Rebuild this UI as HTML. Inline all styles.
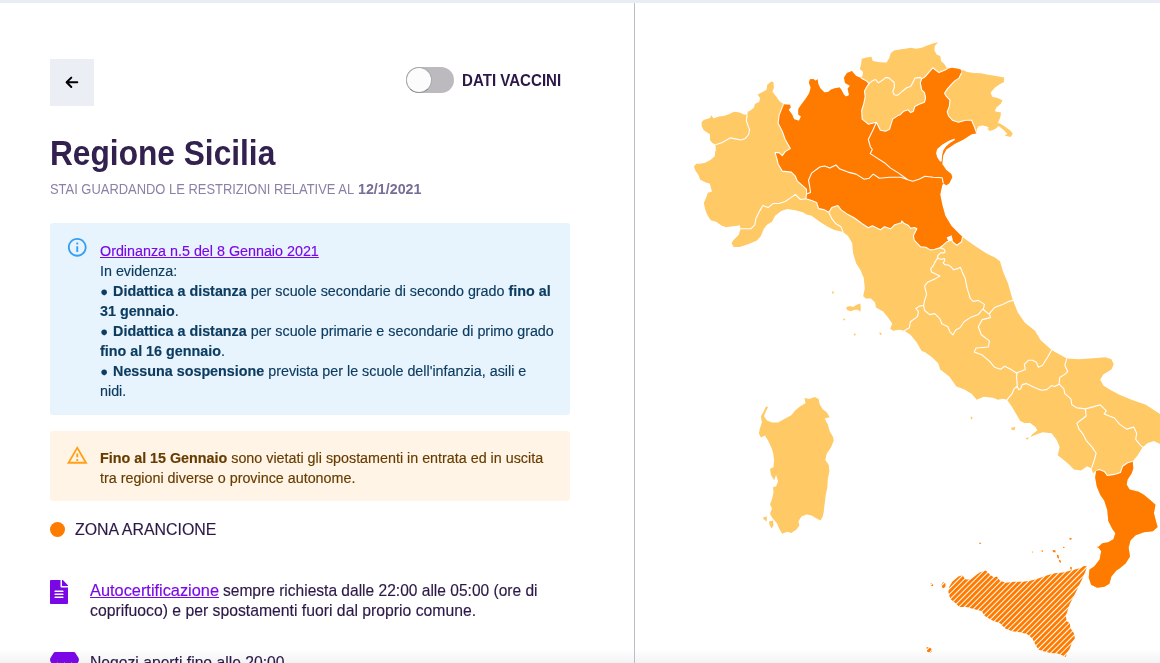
<!DOCTYPE html>
<html lang="it">
<head>
<meta charset="utf-8">
<title>Regione Sicilia</title>
<style>
html,body{margin:0;padding:0;}
body{width:1160px;height:663px;overflow:hidden;background:#fff;position:relative;font-family:"Liberation Sans",sans-serif;color:#2f1c4e;}
.abs{position:absolute;white-space:nowrap;}
#topbar{left:0;top:0;width:1160px;height:3px;background:#e9ecf5;}
#divider{left:634px;top:3px;width:1px;height:660px;background:#bfbdc4;}
#back{left:50px;top:59px;width:44px;height:47px;background:#eceef6;}
#track{left:406px;top:67px;width:48px;height:26px;border-radius:13px;background:#bcbabf;}
#knob{left:406px;top:67px;width:24px;height:24px;border-radius:50%;background:#fcfcfc;border:1px solid #a9a7ad;border-bottom-color:#8f8d93;}
#lbl{left:461.5px;top:71.4px;font-size:16.6px;font-weight:bold;color:#2c1848;line-height:19px;transform-origin:0 0;transform:scaleX(.909);}
#title{left:49.5px;top:131.3px;font-size:35.2px;font-weight:bold;color:#32204f;line-height:44px;transform-origin:0 0;transform:scaleX(.9);}
.sub{top:179.8px;font-size:14.4px;color:#8c80a6;line-height:18px;transform-origin:0 0;}
#sub{left:50px;transform:scaleX(.8985);}
#subd{left:358.2px;transform:scaleX(.9915);}
.sub b{color:#786d96;}
.box{border-radius:3px;}
#info{left:50px;top:223px;width:520px;height:191.5px;background:#e8f4fd;}
#warn{left:50px;top:431.2px;width:520px;height:70.3px;background:#fff4e5;}
.ln{font-size:14.32px;line-height:20px;}
.it{color:#0d3c61;}
.bu{display:inline-block;width:9.1px;font-size:13px;line-height:10px;text-align:left;text-indent:0.2px;vertical-align:0.3px;}
.ln,.li,#zona{-webkit-text-stroke:0.15px currentColor;}
.wt{color:#663c00;}
a{color:#7a08e6;text-decoration:underline;}
#dot{left:50px;top:521.5px;width:15px;height:15px;border-radius:50%;background:#ff7b00;}
#zona{left:74.5px;top:519.5px;font-size:16.7px;line-height:20px;color:#2c1848;transform-origin:0 0;transform:scaleX(.953);}
.li{font-size:15.7px;line-height:20.8px;color:#2c1848;transform-origin:0 0;}
#fade{left:0;top:649px;width:1160px;height:14px;background:linear-gradient(to bottom,rgba(238,238,238,0),rgba(238,238,238,.7));}
</style>
</head>
<body>
<div class="abs" id="fade"></div>
<div class="abs" id="topbar"></div>
<div class="abs" id="divider"></div>

<div class="abs" id="back">
<svg width="44" height="47" viewBox="0 0 44 47"><path d="M27.3 23.3H17.2M21.3 18.6L16.6 23.3L21.3 28" fill="none" stroke="#000" stroke-width="2" stroke-linecap="round" stroke-linejoin="round"/></svg>
</div>

<div class="abs" id="track"></div>
<div class="abs" id="knob"></div>
<div class="abs" id="lbl">DATI VACCINI</div>

<div class="abs" id="title">Regione Sicilia</div>
<div class="abs sub" id="sub">STAI GUARDANDO LE RESTRIZIONI RELATIVE AL</div>
<div class="abs sub" id="subd"><b>12/1/2021</b></div>

<div class="abs box" id="info"></div>
<svg class="abs" style="left:65.6px;top:236.1px;opacity:.9" width="22.5" height="22.5" viewBox="0 0 24 24"><path fill="#2196f3" d="M11 7h2v2h-2zm0 4h2v6h-2zm1-9C6.480 2 2 6.480 2 12s4.480 10 10 10 10-4.480 10-10S17.520 2 12 2zm0 18c-4.410 0-8-3.590-8-8s3.590-8 8-8 8 3.590 8 8-3.590 8-8 8z"/></svg>
<div class="abs ln it" style="left:100px;top:241px"><a>Ordinanza n.5 del 8 Gennaio 2021</a></div>
<div class="abs ln it" style="left:100px;top:261px">In evidenza:</div>
<div class="abs ln it" style="left:100px;top:281px"><span class="bu">●</span> <b>Didattica a distanza</b> per scuole secondarie di secondo grado <b>fino al</b></div>
<div class="abs ln it" style="left:100px;top:301px"><b>31 gennaio</b>.</div>
<div class="abs ln it" style="left:100px;top:321px"><span class="bu">●</span> <b>Didattica a distanza</b> per scuole primarie e secondarie di primo grado</div>
<div class="abs ln it" style="left:100px;top:341px"><b>fino al 16 gennaio</b>.</div>
<div class="abs ln it" style="left:100px;top:361px"><span class="bu">●</span> <b>Nessuna sospensione</b> prevista per le scuole dell'infanzia, asili e</div>
<div class="abs ln it" style="left:100px;top:381px">nidi.</div>

<div class="abs box" id="warn"></div>
<svg class="abs" style="left:65.6px;top:444.1px;opacity:.9" width="22.5" height="22.5" viewBox="0 0 24 24"><path fill="#ff9800" d="M12 5.990L19.530 19H4.470L12 5.990M12 2L1 21h22L12 2zm1 14h-2v2h2v-2zm0-6h-2v4h2v-4z"/></svg>
<div class="abs ln wt" style="left:100px;top:448px"><b>Fino al 15 Gennaio</b> sono vietati gli spostamenti in entrata ed in uscita</div>
<div class="abs ln wt" style="left:100px;top:468px">tra regioni diverse o province autonome.</div>

<div class="abs" id="dot"></div>
<div class="abs" id="zona">ZONA ARANCIONE</div>

<svg class="abs" style="left:50px;top:579.5px" width="18" height="24" viewBox="0 0 384 512"><path fill="#7a08e6" d="M224 136V0H24C10.700 0 0 10.700 0 24v464c0 13.300 10.700 24 24 24h336c13.300 0 24-10.700 24-24V160H248c-13.200 0-24-10.800-24-24zm64 236c0 6.600-5.400 12-12 12H108c-6.600 0-12-5.400-12-12v-8c0-6.600 5.400-12 12-12h168c6.600 0 12 5.400 12 12v8zm0-64c0 6.600-5.400 12-12 12H108c-6.600 0-12-5.400-12-12v-8c0-6.600 5.400-12 12-12h168c6.600 0 12 5.400 12 12v8zm0-72v8c0 6.600-5.400 12-12 12H108c-6.600 0-12-5.400-12-12v-8c0-6.600 5.400-12 12-12h168c6.600 0 12 5.400 12 12zm96-114.100v6.100H256V0h6.100c6.400 0 12.500 2.500 17 7l97.900 98c4.500 4.500 7 10.600 7 16.900z"/></svg>
<div class="abs li" id="li1a" style="left:90px;top:580.5px;transform:scaleX(1.042)"><a>Autocertificazione</a></div>
<div class="abs li" id="li1b" style="left:223.2px;top:580.5px;transform:scaleX(.991)">sempre richiesta dalle 22:00 alle 05:00 (ore di</div>
<div class="abs li" id="li2" style="left:90px;top:601.2px;transform:scaleX(1.004)">coprifuoco) e per spostamenti fuori dal proprio comune.</div>

<svg class="abs" style="left:50px;top:651.7px" width="29" height="24" viewBox="0 0 616 512"><path fill="#7a08e6" d="M602 118.600L537.100 15C531.300 5.700 521 0 510 0H106C95 0 84.700 5.700 78.900 15L14 118.600c-33.500 53.500-3.800 127.900 58.800 136.400 4.500.6 9.100.9 13.700.9 29.600 0 55.800-13 73.800-33.100 18 20.100 44.300 33.100 73.800 33.100 29.600 0 55.800-13 73.800-33.100 18 20.100 44.300 33.100 73.800 33.100 29.600 0 55.800-13 73.800-33.100 18.100 20.100 44.300 33.100 73.800 33.100 4.700 0 9.200-.3 13.700-.9 62.800-8.400 92.600-82.800 59-136.400zM529.500 288c-10 0-19.900-1.500-29.500-3.800V384H116v-99.800c-9.600 2.200-19.500 3.800-29.500 3.800-6 0-12.100-.4-18-1.200-5.600-.8-11.100-2.100-16.400-3.600V480c0 17.700 14.300 32 32 32h448c17.700 0 32-14.300 32-32V283.200c-5.400 1.600-10.800 2.900-16.400 3.600-6.100.8-12.100 1.200-18.200 1.200z"/></svg>
<div class="abs li" id="li3" style="left:90px;top:652.6px">Negozi aperti fino alle 20:00.</div>

<!--MAP-->
<svg class="abs" id="map" style="left:635px;top:3px" width="525" height="660" viewBox="635 3 525 660">
<defs><pattern id="hatch" patternUnits="userSpaceOnUse" width="3.9" height="10" patternTransform="rotate(45)"><rect width="3.9" height="10" fill="#fff"/><rect x="0" width="2.9" height="10" fill="#ff7b00"/></pattern></defs>
<g stroke-linejoin="round">
<path fill="#ffc966" d="M701.7,122.1 703.8,120 710,117.9 711.4,115.2 713.4,118.6 719,116.6 723.8,115.9 730,113.8 734.1,111.7 739.7,112.4 743.8,114.5 747.2,114.8 747.9,111.7 750.7,110.3 754.1,107.6 754.8,104.1 759,102.1 760.3,98.6 757.6,94.5 761.7,92.4 766.6,89.7 767.2,84.8 771.4,81.4 773.4,82.1 773.9,87.6 772.5,91.7 776.2,96.6 779.7,101.4 783.5,104.1 784.5,104.4 790,104.8 790.7,107.6 788.6,109.7 792.1,114.5 794.1,119.3 799,120.7 801,116.6 798.3,114.5 798.3,109 801.7,104.1 805.9,98.6 809.3,93.1 810.7,87.6 808.9,82.8 810,79.3 813.4,79 815.5,80.7 817.6,79.3 818.3,84.1 820.3,88.3 824.5,92.4 828.6,91.7 830.7,89.7 834.8,88.3 839.7,87.6 841.7,90.3 843.8,94.5 845.9,96.6 848.6,95.6 849,94.4 847.6,88.8 850,85.7 845,83.1 844,77.6 847,72.9 852.1,71.1 852.8,72.2 856.2,76 861,78.1 862.4,76 863.1,71.9 859.7,69.1 861,65 861.7,58.8 866.6,57.4 871.4,56.7 872.8,60.9 879.7,62.2 886.6,62.5 889.3,58.1 890.7,53.3 894.1,50.5 899.7,49.6 905.2,48.7 910.7,47.8 916.2,48.7 921.7,47.8 927.2,45.4 932.8,43.6 938.3,42.2 934.8,45.7 934.4,50.5 936.9,54.7 940.3,56 941,60.9 944.5,64.3 947.2,69.1 952.1,67.8 959,69.1 961,69.8 961.7,72.6 962.4,69.8 967.2,71.9 974.1,73 981,73.3 987.9,74.7 994.8,75.8 1004.2,77.4 1003.8,82.2 999.7,84.3 994.8,87.8 990.7,92.6 992.1,96.7 997.6,98.1 1002.4,100.2 1001,103.6 996.2,107.8 994.8,111.2 1001,112.6 1000.4,117.1 997.9,123.2 999.6,123.2 1004.8,126.5 1010.3,130.6 1012.8,133.8 1010.6,137 1004.6,135.6 1007.3,133.8 1003.4,129.7 998.6,125.9 994.9,129.3 989.8,130.9 985.8,127.2 978.7,127.2 976.7,131.3 976.7,133.3 971.6,134.3 963.5,139.4 955.4,143.4 946.3,149.5 943.2,155.6 942.2,163.9 946.3,170.1 951.3,174.1 952.3,177.2 949.3,183.2 946.3,185.3 943.2,183.2 942.2,185.3 940.2,194.4 942.2,204.5 945.3,215.7 951.3,225.8 957.4,231.9 962.5,237 973.6,245 985.8,253.1 994.9,257.6 1000,261.2 1003,271.4 1008.1,283.5 1012.1,297.9 1013.1,300.4 1017.8,312.5 1024.9,322.7 1035,330.8 1040.5,340 1051.6,350.1 1066.8,358.6 1079,359.2 1093.1,358.2 1105.3,357.2 1111.4,359.2 1113.8,364.3 1111.4,369.4 1103.3,374.4 1100.2,379.5 1103.3,385.6 1111.4,390.6 1119.5,394.7 1131.6,399.8 1145.8,404.8 1153.9,409.9 1160,413.9 1175,417 1175,446 1160,444.1 1153.9,441 1147.8,443 1142.8,447.1 1137.7,455.2 1132.7,461.3 1133.3,468.4 1131.6,473.4 1127.6,479.5 1126.6,484.6 1129.6,489.6 1138.7,491.7 1143.8,494.7 1149.9,499.8 1155.5,504.8 1153.9,512.9 1155.9,521 1157.6,527.1 1152.9,531.2 1143.8,532.2 1135.7,535.2 1130.6,540.3 1128.6,547.4 1130,556.5 1125.6,563.6 1119.5,568.6 1116.4,570.5 1111.4,576.6 1109.4,583.7 1104.3,586.7 1097.2,587.8 1091.1,584.7 1088.7,577.6 1089.5,569.5 1094.2,566.5 1099.6,559.4 1101.2,551.3 1097.6,546.2 1097.6,547.4 1102.3,543.3 1108.3,542.3 1113.4,539.3 1115.4,533.2 1112.4,529.1 1108.3,521 1107.3,509.9 1104.3,500.8 1100.2,494.7 1096.8,486.6 1095.2,477.5 1096.2,470.4 1093.1,473.4 1091.5,468.4 1087.1,466.3 1081,470.4 1073.9,469.4 1068.8,464.3 1062.8,459.2 1057.7,455.2 1059.7,447.1 1056.7,440 1051.6,433.2 1042.5,432.2 1034.4,435.2 1030.3,437.2 1032.4,434.2 1037.4,430.2 1035.4,427.1 1030.3,423.1 1024.3,423.1 1020.2,421 1016.2,413.9 1012.1,406.9 1007,399.8 1003,398.8 997.9,399.8 992.9,397.7 983.8,396.7 976.7,399.8 971.6,393.7 964.5,389.6 956.4,386.6 949.3,376.5 940.2,369.4 938.2,363.3 932.1,357.2 925,352.2 921.6,351 916.5,341.9 910.4,334.8 904.3,330.8 899.3,329.8 893.2,330.8 890.2,328.8 892.2,323.7 888.1,317.6 883.1,311.5 876,307.5 875,302.4 870.9,298.4 865.8,298.4 863.2,296.3 864.8,288.2 863.8,278.1 860.4,270 856.1,263.3 853.1,253.1 852.1,243 848,235.9 843,231.9 838.9,230.9 833.8,229.8 827.8,226.8 819.7,221.7 811.6,215.7 806.5,214.6 803.4,212.6 795.3,210.2 787.2,209 781.2,211 775.1,215.7 772,221.7 767,224.8 763.9,228.8 760.9,235.9 756.9,240.6 748.8,244 739.6,247.1 733.6,247.1 731.5,243 733.6,240 738.6,234.9 740.6,228.8 739.7,225.2 735.5,225.9 730.7,226.6 725.9,227.2 721,225.2 716.2,221.7 710.7,220.3 707.2,214.8 705.2,209.3 703.8,203.1 705.9,198.3 707.9,192.8 712.1,191.4 710.7,187.2 710,183.8 705.9,182.4 700.3,179.7 698.3,174.8 695.5,170.7 693.9,166.6 696.2,163.8 700.3,163.8 705.2,162.7 710.7,159.7 714.8,156.2 715.1,152.1 715.9,150 715.5,144.8 712.1,142.8 710,140 710,134.5 707.2,132.4 703.8,130.3 701.7,126.2 701.7,122.1Z"/>
<path fill="#ffc966" d="M804.5,398.1 809.5,399.1 814.6,397.1 818.6,399.1 819.7,404.2 822.7,409.2 826.7,412.3 829.8,417.3 824.7,418.4 827.8,424.4 829.8,431.5 832.8,436.6 833.8,440.6 830.8,447.7 826.7,453.8 825.3,459.9 828.8,465 829.4,471 827.8,479.1 827.4,487.2 825.7,495.3 824.7,503.4 823.7,511.6 824.1,510.4 822.7,516.5 820.7,520.5 816.6,518.5 811.6,515.5 806.5,514.4 801.4,516.5 798.4,521.5 799.4,525.6 796.4,529.6 791.3,533.1 787.2,531.7 782.2,533.7 779.1,528.6 777.1,523.6 772,517.5 770,513.4 772,508.4 770,504.3 772,499.2 773.5,492.2 773.1,487.2 776.1,486.2 778.1,481.2 776.1,475.1 774.1,480.2 771,475.1 770,469 773.5,467 774.1,459.9 773.1,452.8 771,446.7 768,440.6 765,435.6 760.9,437.6 758.9,433.6 759.9,428.5 761.9,422.4 760.9,416.3 763.3,412.3 766,406.2 768,407.2 766,411.3 763.9,416.3 767,420.4 772,422.4 778.1,422.4 785.2,418.4 791.3,415.3 795.3,410.3 800.4,406.2 805.5,403.2Z M846.2,307.3 849.6,306.1 853.1,306.9 856.7,304.8 860.4,303.4 860.8,307.5 860.4,311.7 857.7,309.7 854.7,309.7 850.6,311.3 847,310.1Z M832.4,291.1 833.8,291.9 833.4,293.9 832,293.1Z M843.2,318.6 845.4,319 844.6,320.6 843.4,320Z M853.7,333.4 855.7,333.8 855.5,335.6 853.9,335.2Z M879.4,332 881.4,333.2 881.4,335.2 879.8,334.4Z M832.4,291.2 833.8,291.6 833.4,294.1 832.2,293.2Z M1011.1,427.7 1015.4,427.1 1014.5,430.2 1011.7,429.7Z M1025.9,438.1 1028.7,437.6 1028.3,439.3 1026.1,439.3Z M970.8,416.6 972.4,417 972,419.4 970.8,419Z M762.9,517.5 767,516.5 766.6,521.5 763.9,519.5Z M769,521.5 773.1,520.5 773.5,525.6 771.4,528.6 769.4,524.6Z"/>
<path fill="#ff7b00" d="M783.5,104.1 784.5,104.4 790,104.8 790.7,107.6 788.6,109.7 792.1,114.5 794.1,119.3 799,120.7 801,116.6 798.3,114.5 798.3,109 801.7,104.1 805.9,98.6 809.3,93.1 810.7,87.6 808.9,82.8 810,79.3 813.4,79 815.5,80.7 817.6,79.3 818.3,84.1 820.3,88.3 824.5,92.4 828.6,91.7 830.7,89.7 834.8,88.3 839.7,87.6 841.7,90.3 843.8,94.5 845.9,96.6 848.6,95.6 849,94.4 847.6,88.8 850,85.7 845,83.1 844,77.6 847,72.9 852.1,71.1 852.8,72.2 856.2,76 861,78.1 866.6,80.9 869,83.6 866.6,87.1 864.5,91.2 865.2,96.7 863.8,103.6 861.7,110.5 862.2,119.1 868.3,124.2 876.4,122.2 873.3,129.3 868.3,139.4 870.3,146.5 872.3,149.5 870.3,153.6 876.4,157.6 884.5,162.7 890.6,168.1 898.7,173.1 907.8,179.8 900.7,177.2 889.5,177.2 879.4,178.2 873.3,174.1 869.3,178.2 864.2,179.2 856.1,174.1 848,172.1 839.9,169.1 835.9,165 829.8,168.1 824.7,166 819.7,167 811.6,173.1 808.5,180.2 809.5,185.3 810.5,192.4 806.5,194 806.5,189.3 803.4,186.3 797.4,181.2 795.3,176.2 791.3,172.1 782.2,171.1 778.1,163.9 777.1,159.7 775.1,152.6 779.1,152.6 782.2,155.6 785.2,151.6 790.3,148.5 785.2,139.4 782.2,131.3 778.1,123.2 779.1,115.1 783.5,104.1Z M876.4,122.2 880.4,130.3 885.5,131.3 889.5,129.3 892.6,119.1 898.7,115.1 900.3,114.7 903.8,111.2 907.9,109.8 910.7,112.6 913.4,111.2 914.8,106.4 919,104.3 924.5,102.2 925.6,98.1 924.5,92.6 921.7,89.8 920.3,82.9 921.7,78.8 925.2,76.7 928.6,72.6 932.8,67.8 936.2,70.5 939,72.6 943.8,70.5 947.2,69.1 952.1,67.8 959,69.1 961,69.8 961.7,72.6 959,78.1 954.8,80.9 951.4,84.3 947.2,89.1 944.5,93.3 946.6,96.7 950,100.2 949.3,106.4 947.2,111.9 948.6,116 952.3,120.2 958.4,122.2 965.5,120.2 971.6,120.2 974.6,127.2 976.7,133.3 971.6,134.3 963.5,139.4 955.4,143.4 946.3,149.5 943.2,155.6 942.2,163.9 946.3,170.1 951.3,174.1 952.3,177.2 949.3,183.2 946.3,185.3 943.2,183.2 942.2,177.8 933.1,177.2 925,176.2 918.9,179.2 912.8,181.2 907.8,179.8 898.7,173.1 890.6,168.1 884.5,162.7 876.4,157.6 870.3,153.6 872.3,149.5 870.3,146.5 868.3,139.4 873.3,129.3 876.4,122.2Z M806.5,194 810.5,192.4 809.5,185.3 808.5,180.2 811.6,173.1 819.7,167 824.7,166 829.8,168.1 835.9,165 839.9,169.1 848,172.1 856.1,174.1 864.2,179.2 869.3,178.2 873.3,174.1 879.4,178.2 889.5,177.2 900.7,177.2 907.8,179.8 912.8,181.2 918.9,179.2 925,176.2 933.1,177.2 942.2,177.8 943.2,183.2 942.2,185.3 940.2,194.4 942.2,204.5 945.3,215.7 951.3,225.8 957.4,231.9 962.5,237 961.6,241.7 956.9,245.2 953,242.2 951.7,240 947,241.7 943.1,245.2 939.7,247.8 937.9,248.2 934.5,249.5 930.2,249.9 925.9,247.3 920.7,246.9 917.2,243.4 914.2,240 913.4,235.7 915.1,232.2 916.8,228.8 914.7,227.5 910.8,228.4 908.2,225.3 904.3,223.6 901.7,221 901.7,222.8 894.6,224.8 890.6,228.8 884.5,226.8 880.4,229.8 872.3,225.8 868.3,227.8 862.2,223.8 854.1,217.7 848,214.6 840.9,209.6 837.9,205.5 831.8,207.6 828.8,212.2 823.7,209.6 818.6,208.6 816.6,202.5 811.6,200.5 805.9,198.8 806.5,194Z M1096.2,470.4 1099.2,469.4 1104.3,471.4 1107.3,475.5 1114.4,474.4 1120.5,472.4 1122.5,466.3 1127.6,462.7 1132.7,461.3 1133.3,468.4 1131.6,473.4 1127.6,479.5 1126.6,484.6 1129.6,489.6 1138.7,491.7 1143.8,494.7 1149.9,499.8 1155.5,504.8 1153.9,512.9 1155.9,521 1157.6,527.1 1152.9,531.2 1143.8,532.2 1135.7,535.2 1130.6,540.3 1128.6,547.4 1130,556.5 1125.6,563.6 1119.5,568.6 1116.4,570.5 1111.4,576.6 1109.4,583.7 1104.3,586.7 1097.2,587.8 1091.1,584.7 1088.7,577.6 1089.5,569.5 1094.2,566.5 1099.6,559.4 1101.2,551.3 1097.6,546.2 1097.6,547.4 1102.3,543.3 1108.3,542.3 1113.4,539.3 1115.4,533.2 1112.4,529.1 1108.3,521 1107.3,509.9 1104.3,500.8 1100.2,494.7 1096.8,486.6 1095.2,477.5 1096.2,470.4Z M979.3,542.5 981.3,542.9 980.5,544.1 979.3,543.7Z M1041.3,550.4 1043.3,550.6 1042.9,551.8 1041.5,551.6Z M1052.6,550 1055.7,550.4 1055.3,552.6 1053,552Z M1056.7,554.5 1058.7,555.5 1059.1,558.5 1057.5,557.9Z M1058.7,559.5 1060.7,560.5 1061.1,562.8 1059.5,562.2Z M1063,546.8 1064.6,547 1064.4,548 1063.2,548Z M1069.4,537.8 1071.7,538.3 1071.3,539.7 1069.6,539.5Z M1070.1,567 1071.9,567.2 1071.7,569.7 1070.3,569.2Z M1031.8,551.6 1033,551.8 1032.8,552.6 1032,552.6Z"/>
<path fill="url(#hatch)" d="M1087.1,566.5 1085,572.6 1082,579.6 1078,587.8 1073.9,595.9 1069.8,604 1067.8,610 1065.8,616.1 1066.8,621.2 1069.8,623.2 1070.5,628.3 1073.9,633.3 1074.9,638.4 1071.9,642.4 1069.8,648.5 1066.8,653.6 1065.8,657 1062.8,655.6 1057.7,653.6 1050.6,653 1044.5,651.6 1038.4,649.5 1035.4,644.5 1032.4,638.4 1027.3,634.3 1020.2,632.3 1012.1,631.3 1005,628.3 1000,623.2 991.9,620.2 984.8,616.1 981.7,611 973.6,609 966.5,607 959.4,607 955.4,602.9 950.3,598.9 948.3,591.8 949.3,586.7 952.3,581.7 958.4,576.6 962.5,575.2 965.5,579.6 970.6,579.6 975.6,575.6 979.7,572.6 985.8,570.5 989.8,574.6 993.9,577.6 996.9,576.6 1000,580.7 1006,582.7 1014.1,581.7 1022.2,581.7 1030.3,580.7 1038.4,578.6 1046.6,575.6 1054.7,573.2 1062.8,572.6 1070.9,570.5 1079,568.5 1084,565.9Z M930.7,583.3 933.1,583.7 933.1,586.1 931.1,586.1Z M941.2,584.9 943.2,582.1 945.3,583.3 945.7,587.8 942.8,588.2Z M926.6,646.9 930.7,648.1 932.3,651 930.3,653 927,651.4Z"/>
<path fill="#fff" d="M946.6,237.6 951.6,235.3 952.8,240.2 948.3,241Z M954.5,138.6 948.3,141.1 942.1,144.8 937.2,149 936.1,153.1 937.2,157.2 940,161.4 941.7,161.4 942.1,155.2 943.4,150.3 946.2,146.2 950.3,142.8 954.9,140Z M976.6,129.7 978.6,126.2 982.8,125.5 988.3,126.9 988.3,129 982.8,127.6 979.3,128.3 977.9,131Z"/>
<path fill="none" stroke="#fff" stroke-width="1.1" d="M747.2,114.8 746.3,120.7 747.9,125.5 749.6,129.7 748.6,134.5 745.2,138.6 741,140 735.5,138.9 730,137.9 726.6,140 721.7,142.8 715.5,144.8 M783.5,104.1 779.1,115.1 778.1,123.2 782.2,131.3 785.2,139.4 790.3,148.5 785.2,151.6 782.2,155.6 779.1,152.6 775.1,152.6 777.1,159.7 778.1,163.9 782.2,171.1 791.3,172.1 795.3,176.2 797.4,181.2 803.4,186.3 806.5,189.3 806.5,194 M806.5,194 805.9,198.8 M740.6,228.8 750.8,228.8 754.8,224.8 755.8,218.7 759.9,210.6 762.9,205.5 768,207.6 773.1,203.5 779.1,203.5 785.2,201.5 791.3,197.4 795.3,194.4 800.4,199.5 805.9,198.8 M861,78.1 866.6,80.9 869,83.6 866.6,87.1 864.5,91.2 865.2,96.7 863.8,103.6 861.7,110.5 862.2,119.1 868.3,124.2 876.4,122.2 M876.4,122.2 873.3,129.3 868.3,139.4 870.3,146.5 872.3,149.5 870.3,153.6 876.4,157.6 884.5,162.7 890.6,168.1 898.7,173.1 907.8,179.8 M806.5,194 810.5,192.4 809.5,185.3 808.5,180.2 811.6,173.1 819.7,167 824.7,166 829.8,168.1 835.9,165 839.9,169.1 848,172.1 856.1,174.1 864.2,179.2 869.3,178.2 873.3,174.1 879.4,178.2 889.5,177.2 900.7,177.2 907.8,179.8 M907.8,179.8 912.8,181.2 918.9,179.2 925,176.2 933.1,177.2 942.2,177.8 943.2,183.2 M876.4,122.2 880.4,130.3 885.5,131.3 889.5,129.3 892.6,119.1 898.7,115.1 900.3,114.7 903.8,111.2 907.9,109.8 910.7,112.6 913.4,111.2 914.8,106.4 919,104.3 924.5,102.2 925.6,98.1 924.5,92.6 921.7,89.8 920.3,82.9 921.7,78.8 M921.7,78.8 925.2,76.7 928.6,72.6 932.8,67.8 936.2,70.5 939,72.6 943.8,70.5 947.2,69.1 M869,83.6 872.1,80.9 875.5,79.5 878.3,82.9 882.4,80.2 885.9,77.4 889.3,78.1 891.4,80.2 894.1,82.2 894.4,87.1 892.8,91.2 894.1,94.7 897.6,95.3 902.4,91.2 906.6,87.8 910.7,86.4 913.4,81.6 914.8,78.1 920.3,77.4 921.7,78.8 M961.7,72.6 959,78.1 954.8,80.9 951.4,84.3 947.2,89.1 944.5,93.3 946.6,96.7 950,100.2 949.3,106.4 947.2,111.9 948.6,116 952.3,120.2 958.4,122.2 965.5,120.2 971.6,120.2 974.6,127.2 976.7,133.3 M805.9,198.8 811.6,200.5 816.6,202.5 818.6,208.6 823.7,209.6 828.8,212.2 M828.8,212.2 831.8,218.7 835.9,223.8 840.9,226.8 843,231.9 M828.8,212.2 831.8,207.6 837.9,205.5 840.9,209.6 848,214.6 854.1,217.7 862.2,223.8 868.3,227.8 872.3,225.8 880.4,229.8 884.5,226.8 890.6,228.8 894.6,224.8 901.7,222.8 901.7,221 904.3,223.6 908.2,225.3 910.8,228.4 914.7,227.5 916.8,228.8 915.1,232.2 913.4,235.7 914.2,240 917.2,243.4 920.7,246.9 925.9,247.3 930.2,249.9 934.5,249.5 937.9,248.2 M937.9,248.2 939.7,247.8 943.1,245.2 947,241.7 951.7,240 953,242.2 956.9,245.2 961.6,241.7 962.5,237 M937.9,248.2 941.4,247.9 944.4,249.5 945.1,252.1 943.5,252.9 940.5,252.9 937.9,255.5 937.5,258.1 M937.5,258.1 941.4,259.4 944.4,258.5 944.8,260.7 943.1,262.8 944.8,264.6 948.3,265 950.9,266.7 953.4,269.7 956.9,268.9 960.3,267.2 961.6,270.2 962.1,271.9 965.1,278.1 967.1,288.2 970.2,298.4 973.2,301.4 978.3,300.4 984.4,304.4 983.3,309.5 M937.5,258.1 935.3,261.6 933.2,265.9 930.6,268.9 931.5,271.9 939.8,276.1 934.7,279.1 927.6,282.2 924.6,286.2 926.6,294.3 924.6,300.4 923.6,305.5 M923.6,305.5 919.5,306.1 915.9,308.5 918.5,311.5 917.5,316.6 910.4,321.7 909.4,327.7 904.3,330.8 M923.6,305.5 924.6,310.5 929.7,314.6 934.7,313.6 939.8,318.6 941.8,323.7 947.9,326.7 949.9,331.8 953,334.8 956,329.8 960,327.7 964.1,321.7 970.2,317.6 978.3,314.6 982.3,309.5 983.3,309.5 M983.3,309.5 988.4,313.6 989.4,313.6 M989.4,313.6 994.5,307.5 1002.6,304.4 1008.7,301.4 1013.1,300.4 M989.4,313.6 990.4,317.6 982.3,319.6 978.3,326.7 981.3,334.8 989.4,340.9 988.4,347 976.2,348 974.2,352 982.3,355.1 989.4,361.2 994.5,367.2 1000.6,369.3 1004.6,366.2 1010.7,369.3 1016.8,373.3 M1017.2,372.4 1020.2,371.4 1025.3,369.4 1024.3,364.3 1028.3,360.3 1032.4,360.3 1036.4,362.3 1038.4,367.3 1042.5,365.3 1047.6,357.2 1051.6,350.1 M1017.2,372.4 1016.6,376.5 1017.2,386.2 M1017.2,386.2 1014.1,388.6 1012.1,393.7 1007,399.8 M1017.2,386.2 1018.6,389.6 1020.6,389 1022.2,384.6 1026.3,383.6 1034.4,387.6 1041.5,390.2 1046.6,389.6 1051.6,385.6 1054.7,386.6 1059.1,384.2 M1059.1,384.2 1059.7,377.5 1064.8,374.4 1067.8,371.4 1064.8,365.3 1066.8,358.6 M1059.1,384.2 1063.8,388.6 1064.8,393.7 1070.9,398.8 1071.9,404.8 1076.9,407.9 1085.4,408.9 M1085.4,408.9 1093.1,406.9 1100.2,404.8 1106.3,410.9 1104.3,413.9 1114.4,418 1119.5,424.1 1126.6,429.1 1133.7,427.1 1136.7,433.2 1135.7,439.3 1139.7,444.3 1142.8,447.4 M1085.4,408.9 1086.1,416 1081,420 1076.9,423.1 1079,429.1 1083,434.2 1086.1,440.3 1092.1,447.1 1096.2,453.2 1094.2,460.3 1091.5,468.4 M1096.2,470.4 1099.2,469.4 1104.3,471.4 1107.3,475.5 1114.4,474.4 1120.5,472.4 1122.5,466.3 1127.6,462.7 1132.7,461.3"/>
</g></svg>
<!--/MAP-->

</body>
</html>
